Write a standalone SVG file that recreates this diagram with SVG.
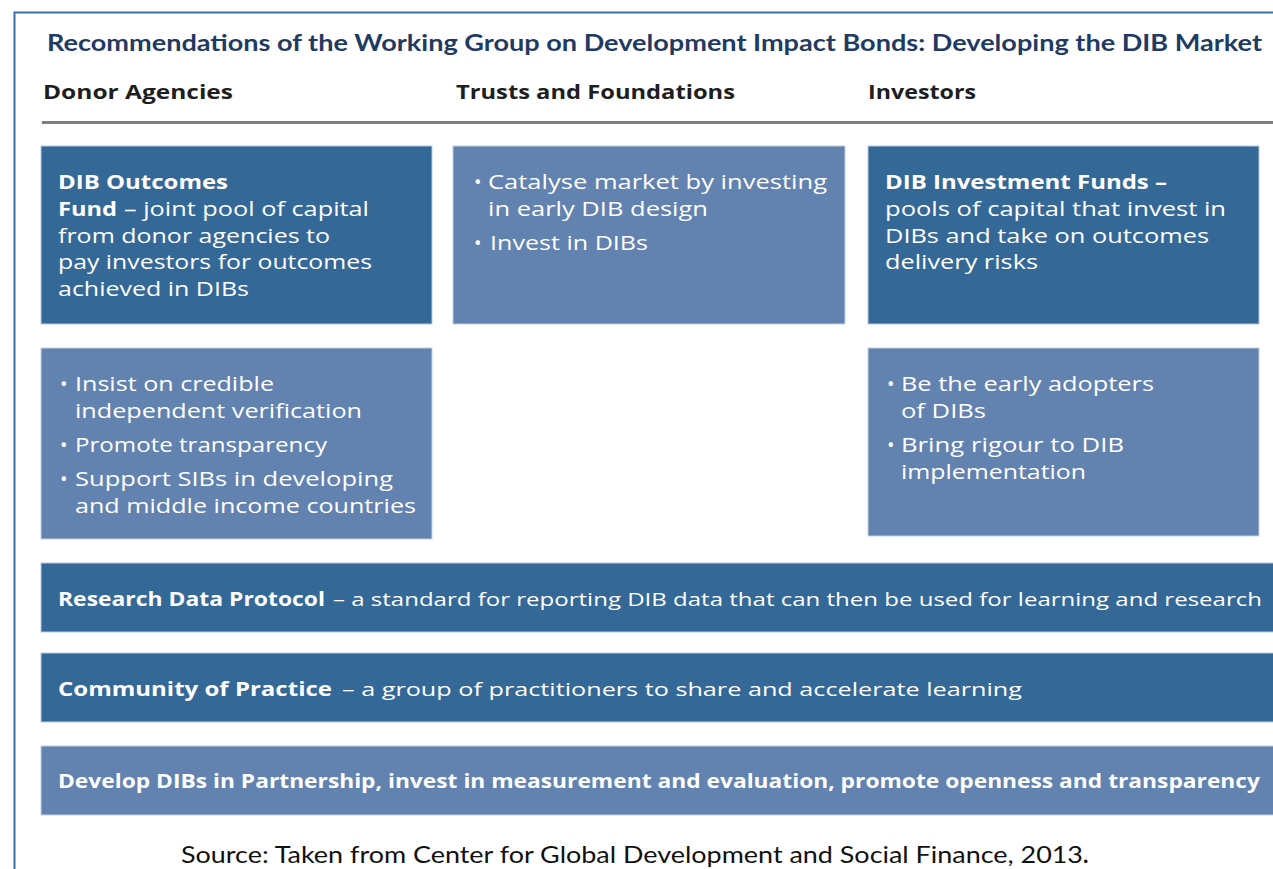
<svg xmlns="http://www.w3.org/2000/svg" width="1273" height="869" viewBox="0 0 1273 869">
  <style>
    .title { font-family: Lato, "Open Sans", sans-serif; font-weight: 700; font-size: 23px; fill: #1f3b63; }
    .head { font-family: "Open Sans", "Noto Sans", sans-serif; font-weight: 700; font-size: 19px; fill: #1e1e1e; }
    .dark { fill: #346897; stroke: #b9c9dd; stroke-width: 1; }
    .light { fill: #6282af; stroke: #c2d0e2; stroke-width: 1; }
    .t { font-family: "Open Sans", "Noto Sans", sans-serif; font-size: 20px; fill: #ffffff; }
    .b { font-weight: 700; }
    .s { font-family: "Open Sans", "Noto Sans", sans-serif; font-size: 19px; fill: #ffffff; }
    .sb { font-weight: 700; }
    .src { font-family: Lato, "Open Sans", sans-serif; font-size: 23px; fill: #111111; }
  </style>

  <rect x="0" y="0" width="1273" height="869" fill="#ffffff"/>

  <!-- frame -->
  <path d="M1273 12.5 H14.5 V869" fill="none" stroke="#3d6fa6" stroke-width="2"/>

  <text class="title" x="47" y="51" textLength="1215" lengthAdjust="spacingAndGlyphs">Recommendations of the Working Group on Development Impact Bonds: Developing the DIB Market</text>

  <!-- column headings -->
  <g id="headings">
    <text class="head" x="43" y="99" textLength="190" lengthAdjust="spacingAndGlyphs">Donor Agencies</text>
    <text class="head" x="456" y="99" textLength="279" lengthAdjust="spacingAndGlyphs">Trusts and Foundations</text>
    <text class="head" x="868" y="99" textLength="108" lengthAdjust="spacingAndGlyphs">Investors</text>
    <line x1="42" y1="122.5" x2="1273" y2="122.5" stroke="#7f7f7f" stroke-width="3"/>
  </g>

  <!-- Donor agencies: outcomes fund -->
  <g id="outcomes-fund">
    <rect class="dark" x="41" y="146" width="391" height="178"/>
    <text class="t b" x="58" y="189" textLength="170" lengthAdjust="spacingAndGlyphs">DIB Outcomes</text>
    <text class="t b" x="58" y="216" textLength="59" lengthAdjust="spacingAndGlyphs">Fund</text>
    <text class="t" x="124" y="216" textLength="245" lengthAdjust="spacingAndGlyphs">– joint pool of capital</text>
    <text class="t" x="58" y="243" textLength="272" lengthAdjust="spacingAndGlyphs">from donor agencies to</text>
    <text class="t" x="58" y="269" textLength="314" lengthAdjust="spacingAndGlyphs">pay investors for outcomes</text>
    <text class="t" x="58" y="296" textLength="191" lengthAdjust="spacingAndGlyphs">achieved in DIBs</text>
  </g>

  <!-- Trusts and foundations -->
  <g id="trusts">
    <rect class="light" x="453" y="146" width="392" height="178"/>
    <text class="t" x="474" y="189">•</text>
    <text class="t" x="488" y="189" textLength="339" lengthAdjust="spacingAndGlyphs">Catalyse market by investing</text>
    <text class="t" x="488" y="216" textLength="220" lengthAdjust="spacingAndGlyphs">in early DIB design</text>
    <text class="t" x="474" y="250">•</text>
    <text class="t" x="490" y="250" textLength="158" lengthAdjust="spacingAndGlyphs">Invest in DIBs</text>
  </g>

  <!-- Investors: investment funds -->
  <g id="investment-funds">
    <rect class="dark" x="868" y="146" width="391" height="178"/>
    <text class="t b" x="885" y="189" textLength="282" lengthAdjust="spacingAndGlyphs">DIB Investment Funds –</text>
    <text class="t" x="885" y="216" textLength="341" lengthAdjust="spacingAndGlyphs">pools of capital that invest in</text>
    <text class="t" x="885" y="243" textLength="324" lengthAdjust="spacingAndGlyphs">DIBs and take on outcomes</text>
    <text class="t" x="885" y="269" textLength="153" lengthAdjust="spacingAndGlyphs">delivery risks</text>
  </g>

  <!-- Donor agencies: actions -->
  <g id="donor-actions">
    <rect class="light" x="41" y="348" width="391" height="191"/>
    <text class="t" x="60" y="391">•</text>
    <text class="t" x="75" y="391" textLength="199" lengthAdjust="spacingAndGlyphs">Insist on credible</text>
    <text class="t" x="75" y="418" textLength="287" lengthAdjust="spacingAndGlyphs">independent verification</text>
    <text class="t" x="60" y="452">•</text>
    <text class="t" x="75" y="452" textLength="252" lengthAdjust="spacingAndGlyphs">Promote transparency</text>
    <text class="t" x="60" y="486">•</text>
    <text class="t" x="75" y="486" textLength="318" lengthAdjust="spacingAndGlyphs">Support SIBs in developing</text>
    <text class="t" x="75" y="513" textLength="341" lengthAdjust="spacingAndGlyphs">and middle income countries</text>
  </g>

  <!-- Investors: actions -->
  <g id="investor-actions">
    <rect class="light" x="868" y="348" width="391" height="188"/>
    <text class="t" x="887" y="391">•</text>
    <text class="t" x="901" y="391" textLength="253" lengthAdjust="spacingAndGlyphs">Be the early adopters</text>
    <text class="t" x="901" y="418" textLength="85" lengthAdjust="spacingAndGlyphs">of DIBs</text>
    <text class="t" x="887" y="452">•</text>
    <text class="t" x="901" y="452" textLength="223" lengthAdjust="spacingAndGlyphs">Bring rigour to DIB</text>
    <text class="t" x="901" y="479" textLength="185" lengthAdjust="spacingAndGlyphs">implementation</text>
  </g>

  <!-- shared recommendations -->
  <g id="research-protocol">
    <rect class="dark" x="41" y="563" width="1240" height="69"/>
    <text class="s sb" x="58" y="606" textLength="267" lengthAdjust="spacingAndGlyphs">Research Data Protocol</text>
    <text class="s" x="333" y="606" textLength="929" lengthAdjust="spacingAndGlyphs">– a standard for reporting DIB data that can then be used for learning and research</text>
  </g>

  <g id="community-practice">
    <rect class="dark" x="41" y="653" width="1240" height="69"/>
    <text class="s sb" x="58" y="696" textLength="274" lengthAdjust="spacingAndGlyphs">Community of Practice</text>
    <text class="s" x="342" y="696" textLength="680" lengthAdjust="spacingAndGlyphs">– a group of practitioners to share and accelerate learning</text>
  </g>

  <g id="partnership">
    <rect class="light" x="41" y="746" width="1240" height="69"/>
    <text class="s sb" x="58" y="788" textLength="1202" lengthAdjust="spacingAndGlyphs">Develop DIBs in Partnership, invest in measurement and evaluation, promote openness and transparency</text>
  </g>

  <text class="src" x="181" y="863" textLength="902" lengthAdjust="spacingAndGlyphs">Source: Taken from Center for Global Development and Social Finance, 2013</text>
  <text class="src" x="1083" y="863" font-weight="700">.</text>
</svg>
